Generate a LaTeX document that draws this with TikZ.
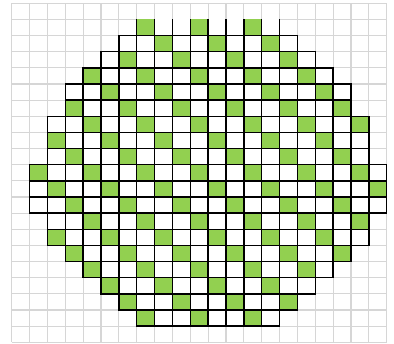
\documentclass[tikz,border=0pt]{standalone}
\definecolor{cellgreen}{RGB}{146,208,80}
\definecolor{gridgray}{RGB}{214,214,214}
\tikzset{
  gridline/.style={gridgray, line width=1.2pt},
  cellline/.style={draw=black, line width=1.5pt},
}
\begin{document}
\begin{tikzpicture}[x=1pt,y=1pt]
\useasboundingbox (0,0) rectangle (394,344);
\fill[white] (0,0) rectangle (394,344);
\begin{scope}[shift={(11.7,340.7)}, x=17.857pt, y=-16.143pt]
  \foreach \i in {0,...,21} {
    \draw[gridline] (\i,0) -- (\i,21);
    \draw[gridline] (0,\i) -- (21,\i);
  }
  % fills
  \foreach \r/\lo in {1/7,2/6,3/5,4/4,5/3,6/3,7/2,8/2,9/2,10/1,11/1,12/1,13/2,14/2,15/3,16/4,17/5,18/6,19/7} {
    \pgfmathtruncatemacro\hi{21-\lo}
    \foreach \c in {\lo,...,\hi} {
      \pgfmathtruncatemacro\m{mod(\c-\r+30,3)}
      \ifnum\m=0 \def\fc{cellgreen}\else\def\fc{white}\fi
      \fill[fill=\fc] (\c,\r) rectangle ++(1,1);
    }
  }
  % borders
  \foreach \r/\lo in {1/7,2/6,3/5,4/4,5/3,6/3,7/2,8/2,9/2,10/1,11/1,12/1,13/2,14/2,15/3,16/4,17/5,18/6,19/7} {
    \pgfmathtruncatemacro\hi{21-\lo}
    \foreach \c in {\lo,...,\hi} {
      \ifnum\r=1
        \draw[cellline] (\c,1) -- (\c,2) -- (\c+1,2) -- (\c+1,1);
      \else
        \draw[cellline] (\c,\r) rectangle ++(1,1);
      \fi
    }
  }
\end{scope}
\end{tikzpicture}
\end{document}
